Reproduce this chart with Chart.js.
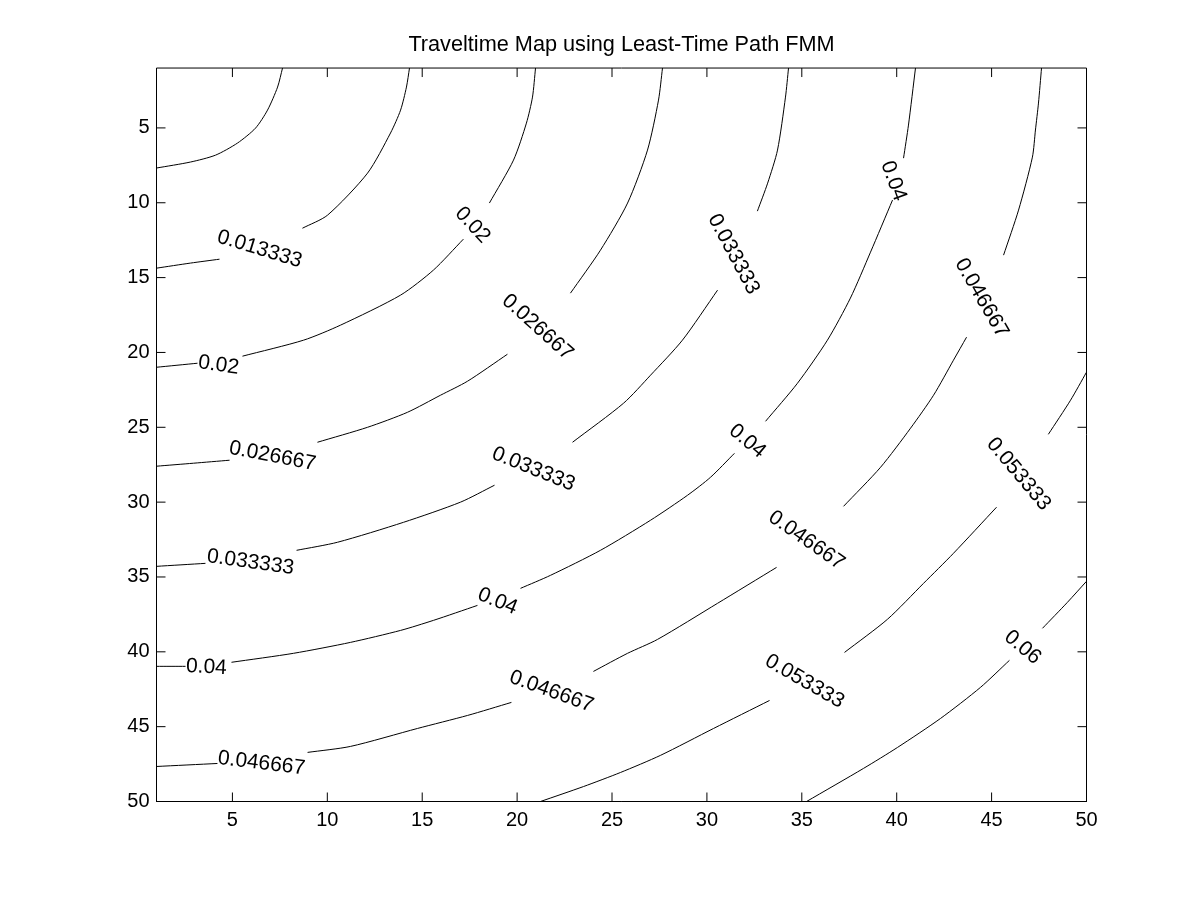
<!DOCTYPE html>
<html>
<head>
<meta charset="utf-8">
<title>Traveltime Map</title>
<script src="https://cdn.jsdelivr.net/npm/chart.js@4"></script>
<style>
    html, body { margin: 0; background: #fff; }
    canvas { display: block; }
</style>
</head>
<body>
<canvas id="chart" width="1200" height="900"></canvas>
<script>
// axis ticks
const tickValues = [5, 10, 15, 20, 25, 30, 35, 40, 45, 50];

// contour lines, [x, y], one array per piece between labels
const level0067 = [[1, 7.68], [2.79, 7.28], [4.11, 6.82], [5.27, 6.01], [6.22, 5.01], [6.85, 3.81], [7.38, 2.27], [7.64, 1]];
const level0133a = [[1, 14.37], [2.79, 14.03], [4.32, 13.77]];
const level0133b = [[8.69, 11.7], [10.01, 10.83], [12.12, 8.02], [13.33, 5.34], [13.86, 3.81], [14.17, 2.27], [14.33, 1]];
const level0200a = [[1, 20.99], [3.16, 20.72]];
const level0200b = [[5.53, 20.25], [8.75, 19.18], [10.69, 18.18], [13.86, 16.17], [15.59, 14.5], [17.17, 12.43]];
const level0200c = [[18.54, 10.02], [19.81, 7.15], [20.49, 4.68], [20.81, 2.94], [20.97, 1]];
const level0267a = [[1, 27.6], [2.95, 27.4], [4.85, 27.2]];
const level0267b = [[9.48, 26], [12.12, 25], [14.22, 24], [15.96, 22.86], [17.39, 21.92], [19.49, 20.12]];
const level0267c = [[22.81, 16.04], [24.39, 13.17], [25.82, 10.02], [26.87, 6.48], [27.45, 3.14], [27.66, 1]];
const level0333a = [[1, 34.29], [3.58, 34.09]];
const level0333b = [[8.38, 33.22], [10.54, 32.68], [14.01, 31.35], [17.02, 30], [18.81, 28.87]];
const level0333c = [[22.92, 26], [25.61, 23.39], [27.03, 21.52], [28.71, 19.18], [30.56, 15.84]];
const level0333d = [[32.66, 10.56], [33.2, 8.69], [33.72, 6.48], [34.14, 2.94], [34.3, 1]];
const level0400a = [[1, 40.97], [2.53, 40.97]];
const level0400b = [[4.95, 40.7], [8.22, 40.1], [11.22, 39.37], [13.86, 38.57], [15.59, 37.9], [17.91, 36.9]];
const level0400c = [[20.18, 35.76], [21.76, 34.89], [24.39, 33.22], [27.03, 31.21], [28.98, 29.54], [30.19, 28.34], [31.45, 26.74]];
const level0400d = [[33.09, 24.6], [34.77, 22.06], [36.35, 19.18], [37.56, 16.37], [38.62, 13.3], [39.78, 9.82]];
const level0400e = [[40.36, 7.02], [40.62, 4.81], [40.99, 1]];
const level0467a = [[1, 47.66], [4.21, 47.46]];
const level0467b = [[8.96, 46.72], [11.22, 46.32], [14.75, 45.12], [17.39, 44.25], [19.7, 43.38]];
const level0467c = [[24.02, 41.31], [25.82, 40.1], [27.4, 39.17], [30.56, 36.76], [33.67, 34.36]];
const level0467d = [[37.2, 30.28], [39.15, 27.67], [40.73, 25.06], [41.94, 22.86], [42.99, 20.52], [43.68, 18.98]];
const level0467e = [[45.63, 13.5], [46.42, 10.49], [47.15, 6.95], [47.31, 5.14], [47.47, 3.34], [47.63, 1]];
const level0533a = [[21.23, 50], [23.5, 49], [25.45, 48.06], [27.55, 46.92], [30.35, 45.12], [33.3, 43.25]];
const level0533b = [[37.25, 40.04], [39.51, 37.83], [41.41, 35.43], [42.99, 33.42], [45.26, 30.34]];
const level0533c = [[47.99, 25.47], [49.16, 23.19], [50, 21.32]];
const level0600a = [[35.25, 50], [38.25, 47.79], [40.04, 46.39], [42.31, 44.45], [44.41, 42.38], [45.94, 40.57]];
const level0600b = [[47.68, 38.43], [48.99, 36.7], [50, 35.29]];

const contourPieces = [
    level0067, level0133a, level0133b, level0200a, level0200b, level0200c,
    level0267a, level0267b, level0267c, level0333a, level0333b, level0333c, level0333d,
    level0400a, level0400b, level0400c, level0400d, level0400e,
    level0467a, level0467b, level0467c, level0467d, level0467e,
    level0533a, level0533b, level0533c, level0600a, level0600b
];

// contour labels
const labelTexts = ["0.013333", "0.02", "0.026667", "0.033333", "0.04", "0.046667",
    "0.02", "0.026667", "0.033333", "0.04", "0.053333", "0.046667",
    "0.033333", "0.04", "0.04", "0.046667", "0.053333", "0.06", "0.046667"];
const labelX = [6.43, 17.65, 21.07, 31.4, 39.83, 44.47,
    4.27, 7.11, 20.86, 32.13, 46.42, 35.25,
    5.95, 18.97, 3.63, 21.81, 35.14, 46.63, 6.53];
const labelY = [13.1, 11.49, 18.31, 13.43, 8.55, 16.37,
    20.85, 26.93, 27.8, 25.93, 28.13, 32.55,
    34.02, 36.63, 41.03, 42.65, 41.98, 39.7, 47.45];
const labelAngles = [17, 47, 42, 62, 70, 60, 8, 11, 22, 40, 50, 35, 8, 22, 3, 20, 30, 40, 7];

const FONT = "'Liberation Sans', Arial, sans-serif";

const matlabFrame = {
    id: "matlabFrame",
    afterDatasetsDraw(chart) {
        const { ctx, chartArea: a, scales } = chart;
        ctx.save();
        ctx.strokeStyle = "#000";
        ctx.lineWidth = 1;
        ctx.beginPath();
        ctx.rect(a.left, a.top, a.right - a.left, a.bottom - a.top);
        // ticks point inwards on all four sides
        tickValues.forEach(v => {
            if (v < 50) {
                const x = scales.x.getPixelForValue(v);
                ctx.moveTo(x, a.top);
                ctx.lineTo(x, a.top + 9);
                ctx.moveTo(x, a.bottom);
                ctx.lineTo(x, a.bottom - 9);
                const y = scales.y.getPixelForValue(v);
                ctx.moveTo(a.left, y);
                ctx.lineTo(a.left + 9, y);
                ctx.moveTo(a.right, y);
                ctx.lineTo(a.right - 9, y);
            }
        });
        ctx.stroke();

        ctx.fillStyle = "#000";
        ctx.font = "21px " + FONT;
        ctx.textAlign = "center";
        ctx.textBaseline = "middle";
        labelTexts.forEach((text, i) => {
            ctx.save();
            ctx.translate(scales.x.getPixelForValue(labelX[i]), scales.y.getPixelForValue(labelY[i]));
            ctx.rotate(labelAngles[i] * Math.PI / 180);
            ctx.fillText(text, 0, 0);
            ctx.restore();
        });
        ctx.restore();
    }
};

new Chart(document.getElementById("chart"), {
    type: "scatter",
    data: {
        datasets: contourPieces.map(piece => ({
            data: piece.map(p => ({ x: p[0], y: p[1] })),
            showLine: true,
            borderColor: "#000",
            borderWidth: 1,
            pointRadius: 0,
            tension: 0.25,
            clip: false
        }))
    },
    options: {
        responsive: false,
        animation: false,
        layout: { padding: { right: 113.5 } },
        plugins: {
            legend: { display: false },
            tooltip: { enabled: false },
            title: {
                display: true,
                fullSize: false,
                text: "Traveltime Map using Least-Time Path FMM",
                color: "#000",
                font: { family: FONT, size: 21.7, weight: "normal" },
                padding: { top: 32, bottom: 10 }
            }
        },
        scales: {
            x: {
                type: "linear",
                min: 1,
                max: 50,
                afterBuildTicks: s => { s.ticks = tickValues.map(v => ({ value: v })); },
                afterFit: s => { s.height = 98.5; },
                grid: { display: false },
                border: { color: "#000" },
                ticks: { color: "#000", font: { family: FONT, size: 20 }, padding: -1, maxRotation: 0 }
            },
            y: {
                type: "linear",
                reverse: true,
                min: 1,
                max: 50,
                afterBuildTicks: s => { s.ticks = tickValues.map(v => ({ value: v })); },
                afterFit: s => { s.width = 156.5; },
                grid: { display: false },
                border: { color: "#000" },
                ticks: { color: "#000", font: { family: FONT, size: 20 }, padding: -1 }
            }
        }
    },
    plugins: [matlabFrame]
});
</script>
</body>
</html>
